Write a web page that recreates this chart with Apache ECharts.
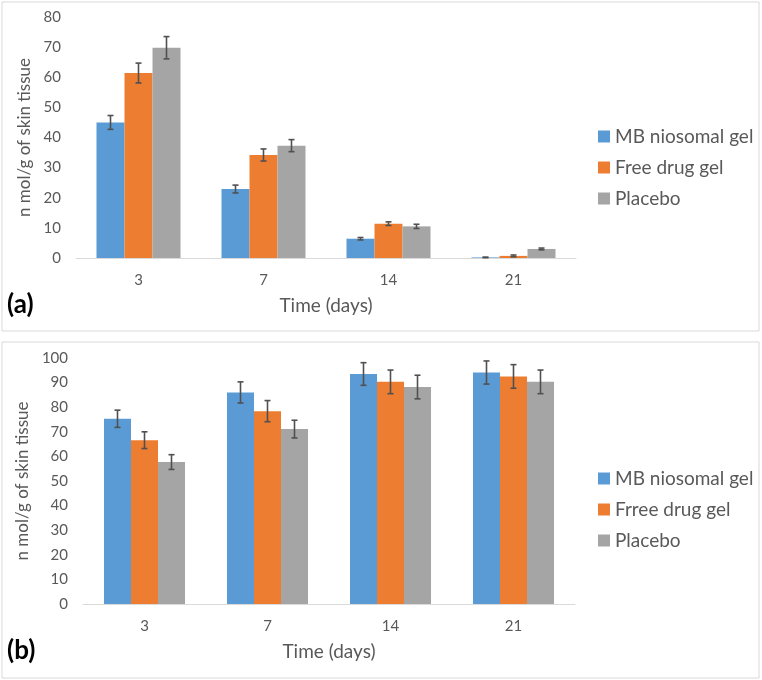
<!DOCTYPE html>
<html>
<head>
<meta charset="utf-8">
<script src="https://cdn.jsdelivr.net/npm/echarts@6/dist/echarts.min.js"></script>
<style>
  html, body { margin: 0; padding: 0; background: #fff; }
  #main { width: 762px; height: 680px; }
</style>
</head>
<body>
<div id="main"></div>
<script>
// time points (days)
var days = ['3', '7', '14', '21'];

// panel (a)
var aMb = [45.0, 22.9, 6.4, 0.2];
var aMbErr = [2.3, 1.3, 0.4, 0.1];
var aFree = [61.4, 34.2, 11.4, 0.7];
var aFreeErr = [3.3, 2.0, 0.6, 0.3];
var aPlacebo = [69.8, 37.3, 10.5, 3.0];
var aPlaceboErr = [3.7, 2.0, 0.7, 0.3];

// panel (b)
var bMb = [75.3, 86.0, 93.5, 94.1];
var bMbErr = [3.5, 4.3, 4.6, 4.7];
var bFree = [66.6, 78.4, 90.3, 92.5];
var bFreeErr = [3.4, 4.3, 4.8, 4.8];
var bPlacebo = [57.7, 71.1, 88.2, 90.3];
var bPlaceboErr = [3.0, 3.6, 4.8, 4.8];

var namesA = ['MB niosomal gel', 'Free drug gel', 'Placebo'];
var namesB = ['MB niosomal gel', 'Frree drug gel', 'Placebo'];
var colors = ['#5B9BD5', '#ED7D31', '#A5A5A5'];
var font = 'Lato';
var textColor = '#595959';

var myChart = echarts.init(document.getElementById('main'));

function barSeries(name, values, axisIdx, colorIdx, bw) {
    return {
        name: name,
        type: 'bar',
        xAxisIndex: axisIdx,
        yAxisIndex: axisIdx,
        barWidth: bw,
        barGap: '0%',
        itemStyle: { color: colors[colorIdx] },
        data: values
    };
}

// error bars drawn through the axis coords, shifted to the bar in the group
function errSeries(values, errs, axisIdx, pos, bw) {
    var data = values.map(function (v, i) {
        return [i, v - errs[i], v + errs[i]];
    });
    return {
        type: 'custom',
        xAxisIndex: axisIdx,
        yAxisIndex: axisIdx,
        z: 10,
        silent: true,
        data: data,
        renderItem: function (params, api) {
            var lo = api.coord([api.value(0), api.value(1)]);
            var hi = api.coord([api.value(0), api.value(2)]);
            var x = lo[0] + (pos - 1) * bw;
            var cap = 3;
            var st = { stroke: '#505050', lineWidth: 1.6 };
            return {
                type: 'group',
                children: [
                    { type: 'line', shape: { x1: x, y1: lo[1], x2: x, y2: hi[1] }, style: st },
                    { type: 'line', shape: { x1: x - cap, y1: lo[1], x2: x + cap, y2: lo[1] }, style: st },
                    { type: 'line', shape: { x1: x - cap, y1: hi[1], x2: x + cap, y2: hi[1] }, style: st }
                ]
            };
        }
    };
}

function xAxisCfg(idx) {
    return {
        type: 'category',
        gridIndex: idx,
        data: days,
        name: 'Time (days)',
        nameLocation: 'middle',
        nameGap: 38,
        nameTextStyle: { fontFamily: font, fontSize: 19, color: textColor },
        axisLine: { lineStyle: { color: '#d9d9d9', width: 1 } },
        axisTick: { show: false },
        axisLabel: { fontFamily: font, fontSize: 15, color: textColor, margin: 15 }
    };
}

function yAxisCfg(idx, max, gap) {
    return {
        type: 'value',
        gridIndex: idx,
        min: 0,
        max: max,
        interval: 10,
        name: 'n mol/g of skin tissue',
        nameLocation: 'middle',
        nameGap: gap,
        nameTextStyle: { fontFamily: font, fontSize: 17, color: textColor },
        axisLine: { show: false },
        axisTick: { show: false },
        splitLine: { show: false },
        axisLabel: { fontFamily: font, fontSize: 15, color: textColor, margin: 15 }
    };
}

function legendCfg(names, top) {
    return {
        data: names,
        orient: 'vertical',
        left: 593,
        top: top,
        itemWidth: 12,
        itemHeight: 12,
        itemGap: 12,
        icon: 'rect',
        textStyle: { fontFamily: font, fontSize: 19, color: textColor }
    };
}

myChart.setOption({
    backgroundColor: '#ffffff',
    animation: false,
    grid: [
        { left: 76, top: 17, width: 500, height: 241 },
        { left: 83, top: 358, width: 492, height: 246 }
    ],
    xAxis: [xAxisCfg(0), xAxisCfg(1)],
    yAxis: [yAxisCfg(0, 80, 37), yAxisCfg(1, 100, 44)],
    legend: [legendCfg(namesA, 122), legendCfg(namesB, 464)],
    graphic: [
        { type: 'rect', shape: { x: 2, y: 2, width: 757, height: 329 },
          style: { fill: 'none', stroke: '#d9d9d9', lineWidth: 1 }, z: -1 },
        { type: 'rect', shape: { x: 2, y: 342, width: 757, height: 336 },
          style: { fill: 'none', stroke: '#d9d9d9', lineWidth: 1 }, z: -1 },
        { type: 'text', left: 7, top: 292,
          style: { text: '(a)', font: 'bold 26px ' + font, fill: '#000' } },
        { type: 'text', left: 7, top: 638,
          style: { text: '(b)', font: 'bold 26px ' + font, fill: '#000' } }
    ],
    series: [
        barSeries(namesA[0], aMb, 0, 0, 28),
        barSeries(namesA[1], aFree, 0, 1, 28),
        barSeries(namesA[2], aPlacebo, 0, 2, 28),
        errSeries(aMb, aMbErr, 0, 0, 28),
        errSeries(aFree, aFreeErr, 0, 1, 28),
        errSeries(aPlacebo, aPlaceboErr, 0, 2, 28),
        barSeries(namesB[0], bMb, 1, 0, 27),
        barSeries(namesB[1], bFree, 1, 1, 27),
        barSeries(namesB[2], bPlacebo, 1, 2, 27),
        errSeries(bMb, bMbErr, 1, 0, 27),
        errSeries(bFree, bFreeErr, 1, 1, 27),
        errSeries(bPlacebo, bPlaceboErr, 1, 2, 27)
    ]
});
</script>
</body>
</html>
